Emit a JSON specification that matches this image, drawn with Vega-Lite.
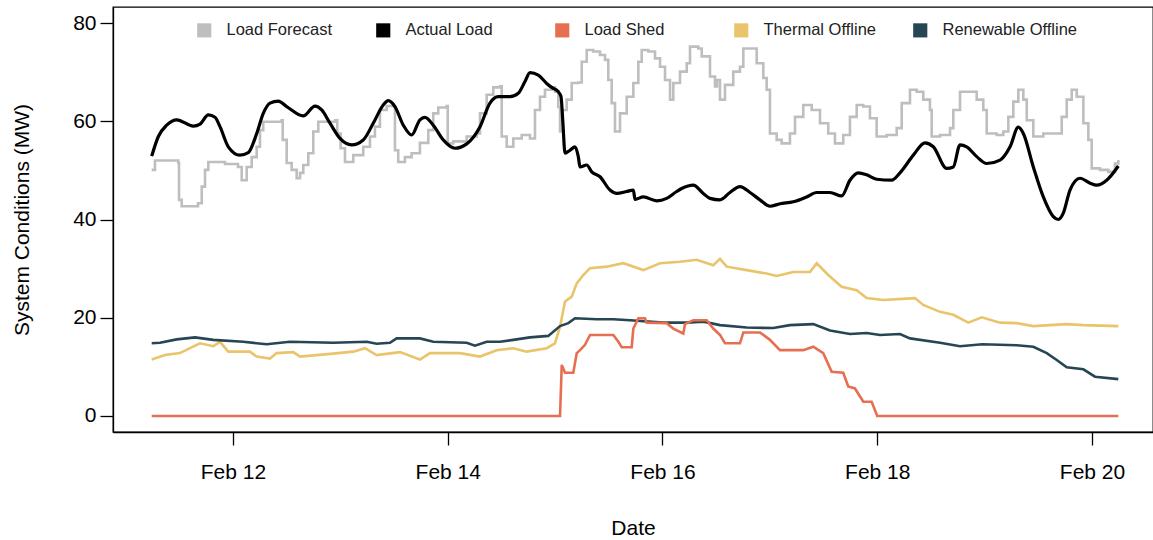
{
  "$schema": "https://vega.github.io/schema/vega-lite/v6.json",
  "width": 1040,
  "height": 425,
  "autosize": {"type": "none"},
  "padding": {"left": 113, "top": 7, "right": 0, "bottom": 108},
  "background": "white",
  "config": {
    "font": "Liberation Sans",
    "view": {"stroke": "#000000", "strokeWidth": 1.3},
    "axis": {
      "domainColor": "#000000", "domainWidth": 1.3,
      "tickColor": "#000000", "tickWidth": 1.3, "tickSize": 13,
      "labelColor": "#000000", "labelFontSize": 21, "labelFont": "Liberation Sans",
      "titleColor": "#000000", "titleFontSize": 21, "titleFontWeight": "normal", "titleFont": "Liberation Sans",
      "grid": false
    }
  },
  "data": {"values": [
    {"s":"Actual Load","t":"2021-02-11T05:50","v":52.9},
    {"s":"Actual Load","t":"2021-02-11T07:19","v":56.9},
    {"s":"Actual Load","t":"2021-02-11T09:11","v":59.2},
    {"s":"Actual Load","t":"2021-02-11T11:25","v":60.3},
    {"s":"Actual Load","t":"2021-02-11T15:08","v":59.0},
    {"s":"Actual Load","t":"2021-02-11T16:38","v":59.4},
    {"s":"Actual Load","t":"2021-02-11T18:29","v":61.3},
    {"s":"Actual Load","t":"2021-02-11T19:59","v":60.8},
    {"s":"Actual Load","t":"2021-02-11T21:06","v":58.9},
    {"s":"Actual Load","t":"2021-02-11T22:57","v":54.8},
    {"s":"Actual Load","t":"2021-02-12T01:34","v":53.1},
    {"s":"Actual Load","t":"2021-02-12T03:25","v":53.6},
    {"s":"Actual Load","t":"2021-02-12T05:18","v":57.5},
    {"s":"Actual Load","t":"2021-02-12T06:46","v":61.6},
    {"s":"Actual Load","t":"2021-02-12T08:16","v":63.7},
    {"s":"Actual Load","t":"2021-02-12T10:08","v":64.1},
    {"s":"Actual Load","t":"2021-02-12T12:00","v":63.0},
    {"s":"Actual Load","t":"2021-02-12T15:43","v":61.1},
    {"s":"Actual Load","t":"2021-02-12T18:20","v":63.1},
    {"s":"Actual Load","t":"2021-02-12T19:50","v":62.3},
    {"s":"Actual Load","t":"2021-02-12T21:41","v":59.6},
    {"s":"Actual Load","t":"2021-02-12T23:55","v":56.5},
    {"s":"Actual Load","t":"2021-02-13T02:32","v":55.2},
    {"s":"Actual Load","t":"2021-02-13T05:07","v":56.2},
    {"s":"Actual Load","t":"2021-02-13T07:21","v":59.6},
    {"s":"Actual Load","t":"2021-02-13T09:35","v":63.3},
    {"s":"Actual Load","t":"2021-02-13T10:42","v":64.2},
    {"s":"Actual Load","t":"2021-02-13T12:12","v":63.0},
    {"s":"Actual Load","t":"2021-02-13T14:04","v":59.2},
    {"s":"Actual Load","t":"2021-02-13T15:56","v":57.2},
    {"s":"Actual Load","t":"2021-02-13T17:47","v":60.3},
    {"s":"Actual Load","t":"2021-02-13T18:55","v":60.8},
    {"s":"Actual Load","t":"2021-02-13T20:46","v":59.2},
    {"s":"Actual Load","t":"2021-02-13T23:00","v":56.2},
    {"s":"Actual Load","t":"2021-02-14T01:37","v":54.5},
    {"s":"Actual Load","t":"2021-02-14T04:14","v":55.4},
    {"s":"Actual Load","t":"2021-02-14T07:13","v":58.9},
    {"s":"Actual Load","t":"2021-02-14T09:26","v":63.7},
    {"s":"Actual Load","t":"2021-02-14T11:18","v":65.0},
    {"s":"Actual Load","t":"2021-02-14T13:55","v":65.0},
    {"s":"Actual Load","t":"2021-02-14T15:46","v":65.7},
    {"s":"Actual Load","t":"2021-02-14T17:16","v":68.1},
    {"s":"Actual Load","t":"2021-02-14T18:23","v":69.9},
    {"s":"Actual Load","t":"2021-02-14T20:14","v":69.4},
    {"s":"Actual Load","t":"2021-02-14T22:07","v":67.7},
    {"s":"Actual Load","t":"2021-02-14T23:14","v":66.9},
    {"s":"Actual Load","t":"2021-02-15T00:43","v":66.0},
    {"s":"Actual Load","t":"2021-02-15T01:19","v":65.0},
    {"s":"Actual Load","t":"2021-02-15T01:42","v":60.3},
    {"s":"Actual Load","t":"2021-02-15T02:13","v":53.5},
    {"s":"Actual Load","t":"2021-02-15T03:20","v":54.1},
    {"s":"Actual Load","t":"2021-02-15T04:27","v":54.8},
    {"s":"Actual Load","t":"2021-02-15T05:11","v":52.8},
    {"s":"Actual Load","t":"2021-02-15T05:34","v":50.7},
    {"s":"Actual Load","t":"2021-02-15T07:04","v":51.1},
    {"s":"Actual Load","t":"2021-02-15T08:11","v":49.7},
    {"s":"Actual Load","t":"2021-02-15T10:02","v":48.7},
    {"s":"Actual Load","t":"2021-02-15T12:16","v":46.0},
    {"s":"Actual Load","t":"2021-02-15T13:46","v":45.3},
    {"s":"Actual Load","t":"2021-02-15T16:00","v":45.7},
    {"s":"Actual Load","t":"2021-02-15T17:29","v":46.0},
    {"s":"Actual Load","t":"2021-02-15T17:52","v":44.1},
    {"s":"Actual Load","t":"2021-02-15T19:43","v":44.6},
    {"s":"Actual Load","t":"2021-02-15T22:43","v":43.8},
    {"s":"Actual Load","t":"2021-02-16T00:56","v":44.3},
    {"s":"Actual Load","t":"2021-02-16T03:10","v":45.7},
    {"s":"Actual Load","t":"2021-02-16T04:17","v":46.3},
    {"s":"Actual Load","t":"2021-02-16T06:53","v":47.0},
    {"s":"Actual Load","t":"2021-02-16T09:07","v":45.3},
    {"s":"Actual Load","t":"2021-02-16T10:37","v":44.3},
    {"s":"Actual Load","t":"2021-02-16T12:51","v":44.0},
    {"s":"Actual Load","t":"2021-02-16T15:05","v":45.5},
    {"s":"Actual Load","t":"2021-02-16T17:19","v":46.7},
    {"s":"Actual Load","t":"2021-02-16T19:33","v":45.5},
    {"s":"Actual Load","t":"2021-02-16T21:47","v":44.0},
    {"s":"Actual Load","t":"2021-02-17T00:01","v":42.7},
    {"s":"Actual Load","t":"2021-02-17T02:15","v":43.2},
    {"s":"Actual Load","t":"2021-02-17T05:14","v":43.6},
    {"s":"Actual Load","t":"2021-02-17T08:13","v":44.6},
    {"s":"Actual Load","t":"2021-02-17T10:28","v":45.5},
    {"s":"Actual Load","t":"2021-02-17T13:26","v":45.5},
    {"s":"Actual Load","t":"2021-02-17T16:03","v":44.8},
    {"s":"Actual Load","t":"2021-02-17T17:54","v":48.0},
    {"s":"Actual Load","t":"2021-02-17T19:45","v":49.5},
    {"s":"Actual Load","t":"2021-02-17T21:38","v":49.1},
    {"s":"Actual Load","t":"2021-02-17T23:52","v":48.2},
    {"s":"Actual Load","t":"2021-02-18T03:14","v":48.0},
    {"s":"Actual Load","t":"2021-02-18T05:05","v":49.5},
    {"s":"Actual Load","t":"2021-02-18T08:04","v":53.1},
    {"s":"Actual Load","t":"2021-02-18T10:40","v":55.6},
    {"s":"Actual Load","t":"2021-02-18T12:32","v":54.8},
    {"s":"Actual Load","t":"2021-02-18T15:31","v":50.4},
    {"s":"Actual Load","t":"2021-02-18T17:00","v":50.7},
    {"s":"Actual Load","t":"2021-02-18T18:30","v":55.2},
    {"s":"Actual Load","t":"2021-02-18T19:59","v":54.8},
    {"s":"Actual Load","t":"2021-02-18T22:14","v":52.8},
    {"s":"Actual Load","t":"2021-02-19T00:28","v":51.4},
    {"s":"Actual Load","t":"2021-02-19T03:27","v":52.1},
    {"s":"Actual Load","t":"2021-02-19T05:41","v":54.8},
    {"s":"Actual Load","t":"2021-02-19T07:32","v":58.8},
    {"s":"Actual Load","t":"2021-02-19T08:39","v":57.5},
    {"s":"Actual Load","t":"2021-02-19T10:53","v":50.7},
    {"s":"Actual Load","t":"2021-02-19T13:07","v":44.6},
    {"s":"Actual Load","t":"2021-02-19T15:21","v":40.6},
    {"s":"Actual Load","t":"2021-02-19T16:28","v":40.0},
    {"s":"Actual Load","t":"2021-02-19T17:35","v":41.3},
    {"s":"Actual Load","t":"2021-02-19T19:05","v":46.0},
    {"s":"Actual Load","t":"2021-02-19T21:19","v":48.4},
    {"s":"Actual Load","t":"2021-02-19T23:34","v":47.4},
    {"s":"Actual Load","t":"2021-02-20T01:03","v":47.0},
    {"s":"Actual Load","t":"2021-02-20T03:17","v":48.0},
    {"s":"Actual Load","t":"2021-02-20T05:53","v":50.9},

    {"s":"Load Forecast","t":"2021-02-11T05:50","v":50.1},
    {"s":"Load Forecast","t":"2021-02-11T06:34","v":52.0},
    {"s":"Load Forecast","t":"2021-02-11T11:47","v":51.5},
    {"s":"Load Forecast","t":"2021-02-11T11:56","v":44.0},
    {"s":"Load Forecast","t":"2021-02-11T12:32","v":42.7},
    {"s":"Load Forecast","t":"2021-02-11T16:11","v":43.3},
    {"s":"Load Forecast","t":"2021-02-11T17:01","v":46.7},
    {"s":"Load Forecast","t":"2021-02-11T17:45","v":50.1},
    {"s":"Load Forecast","t":"2021-02-11T18:29","v":51.7},
    {"s":"Load Forecast","t":"2021-02-11T22:13","v":51.3},
    {"s":"Load Forecast","t":"2021-02-12T01:07","v":50.7},
    {"s":"Load Forecast","t":"2021-02-12T01:57","v":48.0},
    {"s":"Load Forecast","t":"2021-02-12T03:04","v":50.7},
    {"s":"Load Forecast","t":"2021-02-12T04:11","v":52.7},
    {"s":"Load Forecast","t":"2021-02-12T05:18","v":54.8},
    {"s":"Load Forecast","t":"2021-02-12T06:02","v":58.2},
    {"s":"Load Forecast","t":"2021-02-12T06:46","v":59.9},
    {"s":"Load Forecast","t":"2021-02-12T10:53","v":60.2},
    {"s":"Load Forecast","t":"2021-02-12T11:07","v":56.2},
    {"s":"Load Forecast","t":"2021-02-12T12:00","v":51.5},
    {"s":"Load Forecast","t":"2021-02-12T13:07","v":50.1},
    {"s":"Load Forecast","t":"2021-02-12T14:14","v":48.4},
    {"s":"Load Forecast","t":"2021-02-12T14:59","v":49.5},
    {"s":"Load Forecast","t":"2021-02-12T15:43","v":51.1},
    {"s":"Load Forecast","t":"2021-02-12T16:50","v":53.5},
    {"s":"Load Forecast","t":"2021-02-12T17:57","v":57.9},
    {"s":"Load Forecast","t":"2021-02-12T19:04","v":59.9},
    {"s":"Load Forecast","t":"2021-02-12T22:48","v":60.2},
    {"s":"Load Forecast","t":"2021-02-12T23:19","v":57.5},
    {"s":"Load Forecast","t":"2021-02-13T00:04","v":54.5},
    {"s":"Load Forecast","t":"2021-02-13T01:02","v":51.7},
    {"s":"Load Forecast","t":"2021-02-13T02:53","v":53.1},
    {"s":"Load Forecast","t":"2021-02-13T05:07","v":54.8},
    {"s":"Load Forecast","t":"2021-02-13T06:37","v":56.9},
    {"s":"Load Forecast","t":"2021-02-13T07:44","v":58.9},
    {"s":"Load Forecast","t":"2021-02-13T08:51","v":62.3},
    {"s":"Load Forecast","t":"2021-02-13T10:21","v":63.1},
    {"s":"Load Forecast","t":"2021-02-13T11:59","v":63.0},
    {"s":"Load Forecast","t":"2021-02-13T12:12","v":54.1},
    {"s":"Load Forecast","t":"2021-02-13T12:56","v":51.7},
    {"s":"Load Forecast","t":"2021-02-13T14:26","v":52.7},
    {"s":"Load Forecast","t":"2021-02-13T15:56","v":53.5},
    {"s":"Load Forecast","t":"2021-02-13T17:47","v":55.6},
    {"s":"Load Forecast","t":"2021-02-13T19:39","v":58.2},
    {"s":"Load Forecast","t":"2021-02-13T20:46","v":61.6},
    {"s":"Load Forecast","t":"2021-02-13T21:53","v":62.8},
    {"s":"Load Forecast","t":"2021-02-13T23:46","v":63.1},
    {"s":"Load Forecast","t":"2021-02-14T00:00","v":55.5},
    {"s":"Load Forecast","t":"2021-02-14T01:14","v":55.9},
    {"s":"Load Forecast","t":"2021-02-14T04:14","v":56.9},
    {"s":"Load Forecast","t":"2021-02-14T06:28","v":57.5},
    {"s":"Load Forecast","t":"2021-02-14T07:13","v":61.6},
    {"s":"Load Forecast","t":"2021-02-14T08:42","v":65.4},
    {"s":"Load Forecast","t":"2021-02-14T10:11","v":66.9},
    {"s":"Load Forecast","t":"2021-02-14T11:41","v":67.1},
    {"s":"Load Forecast","t":"2021-02-14T12:04","v":56.9},
    {"s":"Load Forecast","t":"2021-02-14T13:11","v":54.8},
    {"s":"Load Forecast","t":"2021-02-14T14:39","v":56.5},
    {"s":"Load Forecast","t":"2021-02-14T16:32","v":57.2},
    {"s":"Load Forecast","t":"2021-02-14T18:23","v":56.5},
    {"s":"Load Forecast","t":"2021-02-14T19:30","v":62.3},
    {"s":"Load Forecast","t":"2021-02-14T20:37","v":65.0},
    {"s":"Load Forecast","t":"2021-02-14T21:44","v":66.4},
    {"s":"Load Forecast","t":"2021-02-14T23:14","v":66.9},
    {"s":"Load Forecast","t":"2021-02-14T23:58","v":66.0},
    {"s":"Load Forecast","t":"2021-02-15T00:43","v":62.9},
    {"s":"Load Forecast","t":"2021-02-15T01:06","v":57.9},
    {"s":"Load Forecast","t":"2021-02-15T01:42","v":62.3},
    {"s":"Load Forecast","t":"2021-02-15T02:35","v":64.4},
    {"s":"Load Forecast","t":"2021-02-15T03:43","v":67.8},
    {"s":"Load Forecast","t":"2021-02-15T05:11","v":67.9},
    {"s":"Load Forecast","t":"2021-02-15T05:57","v":72.1},
    {"s":"Load Forecast","t":"2021-02-15T07:04","v":74.5},
    {"s":"Load Forecast","t":"2021-02-15T08:32","v":74.2},
    {"s":"Load Forecast","t":"2021-02-15T10:02","v":73.5},
    {"s":"Load Forecast","t":"2021-02-15T11:09","v":72.5},
    {"s":"Load Forecast","t":"2021-02-15T11:53","v":68.4},
    {"s":"Load Forecast","t":"2021-02-15T12:39","v":63.7},
    {"s":"Load Forecast","t":"2021-02-15T13:23","v":57.9},
    {"s":"Load Forecast","t":"2021-02-15T14:30","v":61.6},
    {"s":"Load Forecast","t":"2021-02-15T16:00","v":65.0},
    {"s":"Load Forecast","t":"2021-02-15T17:29","v":67.8},
    {"s":"Load Forecast","t":"2021-02-15T18:36","v":72.1},
    {"s":"Load Forecast","t":"2021-02-15T19:21","v":74.5},
    {"s":"Load Forecast","t":"2021-02-15T20:50","v":74.2},
    {"s":"Load Forecast","t":"2021-02-15T22:20","v":72.8},
    {"s":"Load Forecast","t":"2021-02-15T23:27","v":71.1},
    {"s":"Load Forecast","t":"2021-02-16T00:34","v":68.4},
    {"s":"Load Forecast","t":"2021-02-16T01:41","v":64.4},
    {"s":"Load Forecast","t":"2021-02-16T02:25","v":67.8},
    {"s":"Load Forecast","t":"2021-02-16T03:55","v":70.1},
    {"s":"Load Forecast","t":"2021-02-16T05:25","v":71.8},
    {"s":"Load Forecast","t":"2021-02-16T06:09","v":75.2},
    {"s":"Load Forecast","t":"2021-02-16T08:00","v":74.8},
    {"s":"Load Forecast","t":"2021-02-16T08:46","v":73.2},
    {"s":"Load Forecast","t":"2021-02-16T10:37","v":69.1},
    {"s":"Load Forecast","t":"2021-02-16T11:44","v":67.1},
    {"s":"Load Forecast","t":"2021-02-16T12:11","v":68.4},
    {"s":"Load Forecast","t":"2021-02-16T12:51","v":64.4},
    {"s":"Load Forecast","t":"2021-02-16T13:58","v":67.4},
    {"s":"Load Forecast","t":"2021-02-16T15:49","v":70.1},
    {"s":"Load Forecast","t":"2021-02-16T17:19","v":71.1},
    {"s":"Load Forecast","t":"2021-02-16T18:04","v":74.8},
    {"s":"Load Forecast","t":"2021-02-16T19:33","v":74.8},
    {"s":"Load Forecast","t":"2021-02-16T21:03","v":71.8},
    {"s":"Load Forecast","t":"2021-02-16T22:32","v":68.8},
    {"s":"Load Forecast","t":"2021-02-16T23:17","v":66.4},
    {"s":"Load Forecast","t":"2021-02-17T00:01","v":57.5},
    {"s":"Load Forecast","t":"2021-02-17T01:31","v":56.2},
    {"s":"Load Forecast","t":"2021-02-17T02:38","v":55.5},
    {"s":"Load Forecast","t":"2021-02-17T04:29","v":57.5},
    {"s":"Load Forecast","t":"2021-02-17T05:37","v":60.9},
    {"s":"Load Forecast","t":"2021-02-17T07:28","v":63.3},
    {"s":"Load Forecast","t":"2021-02-17T09:21","v":62.3},
    {"s":"Load Forecast","t":"2021-02-17T11:12","v":59.6},
    {"s":"Load Forecast","t":"2021-02-17T13:03","v":57.5},
    {"s":"Load Forecast","t":"2021-02-17T14:33","v":55.5},
    {"s":"Load Forecast","t":"2021-02-17T16:24","v":57.2},
    {"s":"Load Forecast","t":"2021-02-17T17:54","v":60.9},
    {"s":"Load Forecast","t":"2021-02-17T19:24","v":63.3},
    {"s":"Load Forecast","t":"2021-02-17T20:53","v":63.0},
    {"s":"Load Forecast","t":"2021-02-17T22:22","v":60.6},
    {"s":"Load Forecast","t":"2021-02-17T23:52","v":56.9},
    {"s":"Load Forecast","t":"2021-02-18T02:07","v":57.2},
    {"s":"Load Forecast","t":"2021-02-18T04:21","v":58.6},
    {"s":"Load Forecast","t":"2021-02-18T05:28","v":63.7},
    {"s":"Load Forecast","t":"2021-02-18T07:19","v":66.4},
    {"s":"Load Forecast","t":"2021-02-18T08:49","v":66.0},
    {"s":"Load Forecast","t":"2021-02-18T10:17","v":64.4},
    {"s":"Load Forecast","t":"2021-02-18T11:47","v":62.3},
    {"s":"Load Forecast","t":"2021-02-18T12:10","v":56.9},
    {"s":"Load Forecast","t":"2021-02-18T14:02","v":57.2},
    {"s":"Load Forecast","t":"2021-02-18T16:16","v":58.6},
    {"s":"Load Forecast","t":"2021-02-18T17:00","v":62.3},
    {"s":"Load Forecast","t":"2021-02-18T18:30","v":66.0},
    {"s":"Load Forecast","t":"2021-02-18T20:44","v":66.0},
    {"s":"Load Forecast","t":"2021-02-18T22:14","v":64.4},
    {"s":"Load Forecast","t":"2021-02-18T23:42","v":62.3},
    {"s":"Load Forecast","t":"2021-02-19T00:28","v":57.5},
    {"s":"Load Forecast","t":"2021-02-19T02:42","v":57.2},
    {"s":"Load Forecast","t":"2021-02-19T04:11","v":57.9},
    {"s":"Load Forecast","t":"2021-02-19T05:18","v":60.9},
    {"s":"Load Forecast","t":"2021-02-19T06:25","v":64.0},
    {"s":"Load Forecast","t":"2021-02-19T07:32","v":66.4},
    {"s":"Load Forecast","t":"2021-02-19T08:39","v":64.4},
    {"s":"Load Forecast","t":"2021-02-19T09:25","v":60.2},
    {"s":"Load Forecast","t":"2021-02-19T10:53","v":56.9},
    {"s":"Load Forecast","t":"2021-02-19T13:07","v":57.5},
    {"s":"Load Forecast","t":"2021-02-19T16:07","v":57.5},
    {"s":"Load Forecast","t":"2021-02-19T17:14","v":60.9},
    {"s":"Load Forecast","t":"2021-02-19T18:21","v":64.4},
    {"s":"Load Forecast","t":"2021-02-19T19:28","v":66.4},
    {"s":"Load Forecast","t":"2021-02-19T20:35","v":65.0},
    {"s":"Load Forecast","t":"2021-02-19T22:04","v":59.6},
    {"s":"Load Forecast","t":"2021-02-19T23:11","v":56.2},
    {"s":"Load Forecast","t":"2021-02-19T23:56","v":50.4},
    {"s":"Load Forecast","t":"2021-02-20T01:47","v":50.1},
    {"s":"Load Forecast","t":"2021-02-20T03:39","v":49.7},
    {"s":"Load Forecast","t":"2021-02-20T05:08","v":51.4},
    {"s":"Load Forecast","t":"2021-02-20T05:53","v":52.1},

    {"s":"Thermal Offline","t":"2021-02-11T05:50","v":11.5},
    {"s":"Thermal Offline","t":"2021-02-11T08:48","v":12.4},
    {"s":"Thermal Offline","t":"2021-02-11T12:10","v":12.8},
    {"s":"Thermal Offline","t":"2021-02-11T14:24","v":13.8},
    {"s":"Thermal Offline","t":"2021-02-11T16:38","v":14.8},
    {"s":"Thermal Offline","t":"2021-02-11T19:36","v":14.2},
    {"s":"Thermal Offline","t":"2021-02-11T21:06","v":15.1},
    {"s":"Thermal Offline","t":"2021-02-11T22:57","v":13.1},
    {"s":"Thermal Offline","t":"2021-02-12T03:48","v":13.1},
    {"s":"Thermal Offline","t":"2021-02-12T05:18","v":12.1},
    {"s":"Thermal Offline","t":"2021-02-12T08:16","v":11.7},
    {"s":"Thermal Offline","t":"2021-02-12T09:46","v":12.8},
    {"s":"Thermal Offline","t":"2021-02-12T13:29","v":13.0},
    {"s":"Thermal Offline","t":"2021-02-12T14:59","v":12.1},
    {"s":"Thermal Offline","t":"2021-02-12T22:25","v":12.7},
    {"s":"Thermal Offline","t":"2021-02-13T02:53","v":13.1},
    {"s":"Thermal Offline","t":"2021-02-13T05:30","v":13.8},
    {"s":"Thermal Offline","t":"2021-02-13T08:07","v":12.4},
    {"s":"Thermal Offline","t":"2021-02-13T13:19","v":13.0},
    {"s":"Thermal Offline","t":"2021-02-13T17:47","v":11.5},
    {"s":"Thermal Offline","t":"2021-02-13T20:02","v":12.8},
    {"s":"Thermal Offline","t":"2021-02-14T02:44","v":12.8},
    {"s":"Thermal Offline","t":"2021-02-14T07:13","v":12.1},
    {"s":"Thermal Offline","t":"2021-02-14T10:56","v":13.4},
    {"s":"Thermal Offline","t":"2021-02-14T14:39","v":13.8},
    {"s":"Thermal Offline","t":"2021-02-14T17:39","v":13.1},
    {"s":"Thermal Offline","t":"2021-02-14T22:07","v":13.8},
    {"s":"Thermal Offline","t":"2021-02-14T23:58","v":14.8},
    {"s":"Thermal Offline","t":"2021-02-15T01:06","v":18.2},
    {"s":"Thermal Offline","t":"2021-02-15T02:13","v":23.3},
    {"s":"Thermal Offline","t":"2021-02-15T03:43","v":24.3},
    {"s":"Thermal Offline","t":"2021-02-15T04:50","v":27.0},
    {"s":"Thermal Offline","t":"2021-02-15T06:18","v":28.7},
    {"s":"Thermal Offline","t":"2021-02-15T07:48","v":30.1},
    {"s":"Thermal Offline","t":"2021-02-15T11:32","v":30.4},
    {"s":"Thermal Offline","t":"2021-02-15T15:14","v":31.1},
    {"s":"Thermal Offline","t":"2021-02-15T19:43","v":29.7},
    {"s":"Thermal Offline","t":"2021-02-15T23:27","v":31.1},
    {"s":"Thermal Offline","t":"2021-02-16T03:55","v":31.4},
    {"s":"Thermal Offline","t":"2021-02-16T07:39","v":31.8},
    {"s":"Thermal Offline","t":"2021-02-16T11:21","v":30.7},
    {"s":"Thermal Offline","t":"2021-02-16T12:51","v":32.0},
    {"s":"Thermal Offline","t":"2021-02-16T14:21","v":30.4},
    {"s":"Thermal Offline","t":"2021-02-16T18:49","v":29.7},
    {"s":"Thermal Offline","t":"2021-02-16T23:17","v":29.0},
    {"s":"Thermal Offline","t":"2021-02-17T01:31","v":28.5},
    {"s":"Thermal Offline","t":"2021-02-17T05:14","v":29.3},
    {"s":"Thermal Offline","t":"2021-02-17T08:58","v":29.3},
    {"s":"Thermal Offline","t":"2021-02-17T10:28","v":31.1},
    {"s":"Thermal Offline","t":"2021-02-17T13:03","v":28.7},
    {"s":"Thermal Offline","t":"2021-02-17T16:03","v":26.3},
    {"s":"Thermal Offline","t":"2021-02-17T19:24","v":25.6},
    {"s":"Thermal Offline","t":"2021-02-17T21:38","v":24.0},
    {"s":"Thermal Offline","t":"2021-02-18T01:21","v":23.6},
    {"s":"Thermal Offline","t":"2021-02-18T08:26","v":24.0},
    {"s":"Thermal Offline","t":"2021-02-18T10:17","v":22.6},
    {"s":"Thermal Offline","t":"2021-02-18T14:02","v":21.2},
    {"s":"Thermal Offline","t":"2021-02-18T17:00","v":20.6},
    {"s":"Thermal Offline","t":"2021-02-18T20:21","v":19.0},
    {"s":"Thermal Offline","t":"2021-02-18T23:21","v":20.1},
    {"s":"Thermal Offline","t":"2021-02-19T03:27","v":19.0},
    {"s":"Thermal Offline","t":"2021-02-19T07:10","v":18.9},
    {"s":"Thermal Offline","t":"2021-02-19T10:53","v":18.3},
    {"s":"Thermal Offline","t":"2021-02-19T18:21","v":18.7},
    {"s":"Thermal Offline","t":"2021-02-19T22:04","v":18.5},
    {"s":"Thermal Offline","t":"2021-02-20T05:53","v":18.3},

    {"s":"Renewable Offline","t":"2021-02-11T05:50","v":14.8},
    {"s":"Renewable Offline","t":"2021-02-11T07:41","v":14.9},
    {"s":"Renewable Offline","t":"2021-02-11T11:25","v":15.6},
    {"s":"Renewable Offline","t":"2021-02-11T15:31","v":16.0},
    {"s":"Renewable Offline","t":"2021-02-11T19:36","v":15.5},
    {"s":"Renewable Offline","t":"2021-02-12T02:18","v":15.1},
    {"s":"Renewable Offline","t":"2021-02-12T07:32","v":14.6},
    {"s":"Renewable Offline","t":"2021-02-12T12:44","v":15.1},
    {"s":"Renewable Offline","t":"2021-02-12T22:25","v":14.9},
    {"s":"Renewable Offline","t":"2021-02-13T05:53","v":15.1},
    {"s":"Renewable Offline","t":"2021-02-13T08:07","v":14.7},
    {"s":"Renewable Offline","t":"2021-02-13T11:05","v":14.9},
    {"s":"Renewable Offline","t":"2021-02-13T12:35","v":15.8},
    {"s":"Renewable Offline","t":"2021-02-13T17:47","v":15.8},
    {"s":"Renewable Offline","t":"2021-02-13T20:46","v":15.1},
    {"s":"Renewable Offline","t":"2021-02-14T04:14","v":14.9},
    {"s":"Renewable Offline","t":"2021-02-14T06:05","v":14.3},
    {"s":"Renewable Offline","t":"2021-02-14T08:42","v":15.1},
    {"s":"Renewable Offline","t":"2021-02-14T11:41","v":15.1},
    {"s":"Renewable Offline","t":"2021-02-14T14:39","v":15.5},
    {"s":"Renewable Offline","t":"2021-02-14T18:23","v":16.0},
    {"s":"Renewable Offline","t":"2021-02-14T22:28","v":16.3},
    {"s":"Renewable Offline","t":"2021-02-15T01:06","v":18.3},
    {"s":"Renewable Offline","t":"2021-02-15T02:57","v":18.9},
    {"s":"Renewable Offline","t":"2021-02-15T04:27","v":19.9},
    {"s":"Renewable Offline","t":"2021-02-15T09:18","v":19.7},
    {"s":"Renewable Offline","t":"2021-02-15T13:01","v":19.7},
    {"s":"Renewable Offline","t":"2021-02-15T16:44","v":19.5},
    {"s":"Renewable Offline","t":"2021-02-16T00:11","v":19.0},
    {"s":"Renewable Offline","t":"2021-02-16T05:25","v":19.0},
    {"s":"Renewable Offline","t":"2021-02-16T09:07","v":19.2},
    {"s":"Renewable Offline","t":"2021-02-16T12:51","v":18.5},
    {"s":"Renewable Offline","t":"2021-02-16T18:49","v":18.0},
    {"s":"Renewable Offline","t":"2021-02-17T00:46","v":17.9},
    {"s":"Renewable Offline","t":"2021-02-17T04:29","v":18.5},
    {"s":"Renewable Offline","t":"2021-02-17T09:42","v":18.7},
    {"s":"Renewable Offline","t":"2021-02-17T13:26","v":17.4},
    {"s":"Renewable Offline","t":"2021-02-17T17:54","v":16.7},
    {"s":"Renewable Offline","t":"2021-02-17T21:38","v":16.9},
    {"s":"Renewable Offline","t":"2021-02-18T00:37","v":16.5},
    {"s":"Renewable Offline","t":"2021-02-18T05:05","v":16.7},
    {"s":"Renewable Offline","t":"2021-02-18T07:19","v":15.8},
    {"s":"Renewable Offline","t":"2021-02-18T14:02","v":14.9},
    {"s":"Renewable Offline","t":"2021-02-18T18:30","v":14.2},
    {"s":"Renewable Offline","t":"2021-02-18T23:29","v":14.6},
    {"s":"Renewable Offline","t":"2021-02-19T07:10","v":14.4},
    {"s":"Renewable Offline","t":"2021-02-19T10:53","v":14.1},
    {"s":"Renewable Offline","t":"2021-02-19T13:53","v":12.8},
    {"s":"Renewable Offline","t":"2021-02-19T16:07","v":11.4},
    {"s":"Renewable Offline","t":"2021-02-19T18:21","v":9.9},
    {"s":"Renewable Offline","t":"2021-02-19T22:04","v":9.5},
    {"s":"Renewable Offline","t":"2021-02-20T00:40","v":8.0},
    {"s":"Renewable Offline","t":"2021-02-20T05:53","v":7.5},

    {"s":"Load Shed","t":"2021-02-11T05:50","v":0},
    {"s":"Load Shed","t":"2021-02-15T01:06","v":0},
    {"s":"Load Shed","t":"2021-02-15T01:29","v":10.4},
    {"s":"Load Shed","t":"2021-02-15T02:13","v":8.8},
    {"s":"Load Shed","t":"2021-02-15T04:04","v":8.8},
    {"s":"Load Shed","t":"2021-02-15T04:50","v":12.8},
    {"s":"Load Shed","t":"2021-02-15T05:34","v":13.4},
    {"s":"Load Shed","t":"2021-02-15T06:41","v":14.5},
    {"s":"Load Shed","t":"2021-02-15T07:48","v":16.5},
    {"s":"Load Shed","t":"2021-02-15T13:01","v":16.5},
    {"s":"Load Shed","t":"2021-02-15T14:08","v":15.1},
    {"s":"Load Shed","t":"2021-02-15T14:53","v":14.0},
    {"s":"Load Shed","t":"2021-02-15T17:07","v":14.0},
    {"s":"Load Shed","t":"2021-02-15T17:29","v":17.8},
    {"s":"Load Shed","t":"2021-02-15T18:36","v":19.9},
    {"s":"Load Shed","t":"2021-02-15T20:05","v":19.9},
    {"s":"Load Shed","t":"2021-02-15T20:28","v":19.0},
    {"s":"Load Shed","t":"2021-02-16T00:56","v":18.9},
    {"s":"Load Shed","t":"2021-02-16T02:25","v":17.8},
    {"s":"Load Shed","t":"2021-02-16T04:39","v":16.8},
    {"s":"Load Shed","t":"2021-02-16T05:02","v":18.7},
    {"s":"Load Shed","t":"2021-02-16T06:53","v":19.5},
    {"s":"Load Shed","t":"2021-02-16T09:53","v":19.5},
    {"s":"Load Shed","t":"2021-02-16T11:21","v":17.8},
    {"s":"Load Shed","t":"2021-02-16T12:51","v":16.5},
    {"s":"Load Shed","t":"2021-02-16T13:58","v":14.8},
    {"s":"Load Shed","t":"2021-02-16T17:19","v":14.8},
    {"s":"Load Shed","t":"2021-02-16T18:04","v":17.0},
    {"s":"Load Shed","t":"2021-02-16T21:47","v":17.0},
    {"s":"Load Shed","t":"2021-02-17T00:01","v":15.5},
    {"s":"Load Shed","t":"2021-02-17T02:15","v":13.4},
    {"s":"Load Shed","t":"2021-02-17T07:28","v":13.4},
    {"s":"Load Shed","t":"2021-02-17T09:42","v":14.1},
    {"s":"Load Shed","t":"2021-02-17T11:56","v":12.8},
    {"s":"Load Shed","t":"2021-02-17T13:49","v":9.0},
    {"s":"Load Shed","t":"2021-02-17T16:24","v":8.8},
    {"s":"Load Shed","t":"2021-02-17T17:31","v":6.0},
    {"s":"Load Shed","t":"2021-02-17T19:01","v":5.6},
    {"s":"Load Shed","t":"2021-02-17T20:53","v":2.9},
    {"s":"Load Shed","t":"2021-02-17T22:45","v":2.9},
    {"s":"Load Shed","t":"2021-02-18T00:00","v":0},
    {"s":"Load Shed","t":"2021-02-20T05:53","v":0}
  ]},
  "encoding": {
    "x": {
      "field": "t", "type": "temporal", "title": "Date",
      "scale": {"domain": [{"year": 2021, "month": 2, "date": 10, "hours": 21, "minutes": 11}, {"year": 2021, "month": 2, "date": 20, "hours": 13, "minutes": 38}]},
      "axis": {
        "values": [{"year": 2021, "month": 2, "date": 12}, {"year": 2021, "month": 2, "date": 14}, {"year": 2021, "month": 2, "date": 16}, {"year": 2021, "month": 2, "date": 18}, {"year": 2021, "month": 2, "date": 20}],
        "format": "%b %d", "formatType": "time",
        "labelPadding": 16, "titlePadding": 35
      }
    },
    "y": {
      "field": "v", "type": "quantitative", "title": "System Conditions (MW)",
      "scale": {"domain": [-3.26, 83.26], "nice": false, "zero": false},
      "axis": {"values": [0, 20, 40, 60, 80], "labelPadding": 4, "titlePadding": 40}
    },
    "color": {
      "field": "s", "type": "nominal",
      "scale": {
        "domain": ["Load Forecast", "Actual Load", "Load Shed", "Thermal Offline", "Renewable Offline"],
        "range": ["#BEBEBE", "#000000", "#E76F51", "#E9C46A", "#264653"]
      },
      "legend": {
        "title": null, "orient": "none", "legendX": 83, "legendY": 15,
        "direction": "horizontal", "columns": 5, "gridAlign": "all",
        "columnPadding": 13, "symbolType": "square", "symbolSize": 200,
        "symbolStrokeWidth": 0, "labelFontSize": 16.5, "labelOffset": 14,
        "labelColor": "#222222", "labelFont": "Liberation Sans", "labelLimit": 300,
        "encode": {"symbols": {"update": {"fill": {"scale": "color", "field": "value"}, "stroke": {"value": "transparent"}}}}
      }
    }
  },
  "layer": [
    {
      "transform": [{"filter": "datum.s === 'Load Forecast'"}],
      "mark": {"type": "line", "interpolate": "step-after", "strokeWidth": 2.6}
    },
    {
      "transform": [{"filter": "datum.s === 'Actual Load'"}],
      "mark": {"type": "line", "interpolate": "monotone", "strokeWidth": 3.2}
    },
    {
      "transform": [{"filter": "datum.s !== 'Load Forecast' && datum.s !== 'Actual Load'"}],
      "mark": {"type": "line", "interpolate": "linear", "strokeWidth": 2.6}
    }
  ]
}
